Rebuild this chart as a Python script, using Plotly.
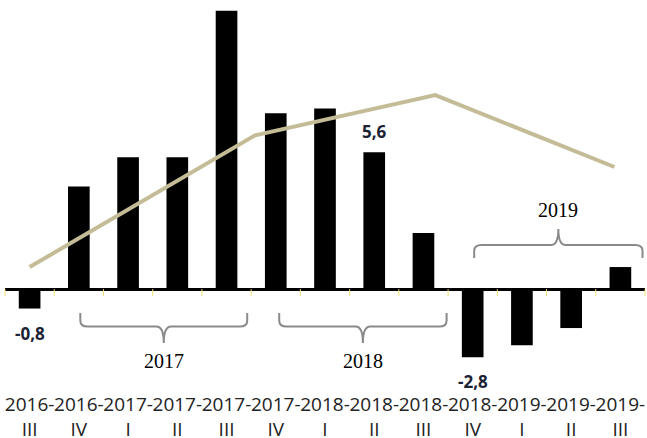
import plotly.graph_objects as go

# ---------------- data ----------------
quarters = ["2016-<br>III", "2016-<br>IV", "2017-<br>I", "2017-<br>II", "2017-<br>III",
            "2017-<br>IV", "2018-<br>I", "2018-<br>II", "2018-<br>III", "2018-<br>IV",
            "2019-<br>I", "2019-<br>II", "2019-<br>III"]
bar_values = [-0.8, 4.2, 5.4, 5.4, 11.4, 7.2, 7.4, 5.6, 2.3, -2.8, -2.3, -1.6, 0.9]

# annual trend line (positions along the quarter axis, as in the source)
line_x = [0.0, 4.58, 8.24, 11.88]
line_y = [0.9, 6.3, 7.95, 5.0]

# labelled bars: (index, text)
bar_labels = [(0, "-0,8"), (7, "5,6"), (9, "-2,8")]

# year braces: (start, end, year, direction)
braces = [(1.03, 4.42, "2017", "down"),
          (5.07, 8.47, "2018", "down"),
          (9.03, 12.45, "2019", "up")]

bar_x = list(range(len(quarters)))

fig = go.Figure()

# small yellow tick marks at category boundaries
bounds = [i - 0.5 for i in range(len(quarters) + 1)]
fig.add_trace(go.Scatter(x=bounds, y=[-0.15] * len(bounds), mode="markers",
                         marker=dict(symbol="line-ns", size=5,
                                     line=dict(color="#efe070", width=1)),
                         hoverinfo="skip", showlegend=False, cliponaxis=False))

fig.add_trace(go.Bar(x=bar_x, y=bar_values, width=0.44,
                     marker=dict(color="black", line=dict(width=0)),
                     showlegend=False))

fig.add_trace(go.Scatter(x=line_x, y=line_y, mode="lines",
                         line=dict(color="#c4bc96", width=4),
                         showlegend=False))

# value labels
for idx, txt in bar_labels:
    v = bar_values[idx]
    fig.add_annotation(x=idx, y=v, text="<b>%s</b>" % txt, showarrow=False,
                       yanchor="bottom" if v > 0 else "top",
                       yshift=7 if v > 0 else -11,
                       font=dict(family="Open Sans", size=17, color="#1c2233"))

# braces
def brace_path(x0, x1, direction):
    xm = (x0 + x1) / 2
    s = -1 if direction == "down" else 1
    y_end = s * 0.98 if direction == "down" else 1.27
    y_mid = s * 1.54 if direction == "down" else 1.80
    y_tip = s * 2.21 if direction == "down" else 2.46
    dx = 0.15
    dy = (y_mid - y_end) * 0.45
    p = (f"M {x0},{y_end} L {x0},{y_mid - dy} Q {x0},{y_mid} {x0 + dx},{y_mid} "
         f"L {xm - dx},{y_mid} Q {xm},{y_mid} {xm},{y_tip} "
         f"Q {xm},{y_mid} {xm + dx},{y_mid} L {x1 - dx},{y_mid} "
         f"Q {x1},{y_mid} {x1},{y_mid - dy} L {x1},{y_end}")
    return p, xm, y_tip

for x0, x1, year, direction in braces:
    p, xm, y_tip = brace_path(x0, x1, direction)
    fig.add_shape(type="path", path=p, xref="x", yref="y",
                  line=dict(color="#8a8a8a", width=2))
    fig.add_annotation(x=xm, y=y_tip, text=year, showarrow=False,
                       yanchor="top" if direction == "down" else "bottom",
                       yshift=-5 if direction == "down" else 6,
                       font=dict(family="Liberation Serif", size=20, color="black"))

fig.update_layout(
    width=647, height=438,
    margin=dict(l=5, r=2, t=5, b=47),
    paper_bgcolor="white", plot_bgcolor="white",
    bargap=0.56,
    xaxis=dict(range=[-0.5, 12.5], tickmode="array", tickvals=bar_x, ticktext=quarters,
               showgrid=False, zeroline=False, showline=False, ticks="",
               automargin=False, tickangle=0,
               tickfont=dict(family="Open Sans", size=19, color="#222222")),
    yaxis=dict(range=[-4.18, 11.64], showgrid=False, showticklabels=False,
               zeroline=True, zerolinecolor="black", zerolinewidth=3,
               showline=False, ticks="", automargin=False),
)

fig.write_html("out.html", config={"displayModeBar": False},
               post_script="document.body.style.margin='0';")
